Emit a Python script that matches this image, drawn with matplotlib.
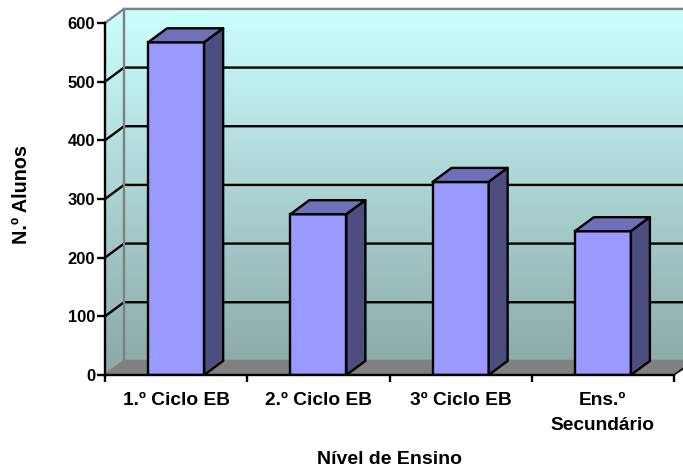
import matplotlib
matplotlib.use('Agg')
import matplotlib.pyplot as plt
from matplotlib.colors import LinearSegmentedColormap
from matplotlib.patches import Polygon
import numpy as np

niveis = ['1.º Ciclo EB', '2.º Ciclo EB', '3º Ciclo EB', 'Ens.º\nSecundário']
alunos = [567, 274, 329, 245]
y_ticks = [0, 100, 200, 300, 400, 500, 600]

plt.rcParams['font.family'] = ['Liberation Sans', 'DejaVu Sans']
plt.rcParams['font.weight'] = 'bold'

fig = plt.figure(figsize=(6.83, 4.68), dpi=100)
ax = fig.add_axes([105 / 683, (468 - 375) / 468, 569 / 683, 352 / 468])
ax.set_xlim(0, 4)
ax.set_ylim(0, 600)

# depth of the fake 3D box, in data units
dx = 19 / 142.25
dy = 24
largura = 0.394
lw = 1.7
x_max = 4.2

# back and side walls share one vertical gradient
cmap = LinearSegmentedColormap.from_list('parede', ['#8aa8a6', '#ccffff'])
grad = np.linspace(0, 1, 256).reshape(-1, 1)
parede = Polygon([(0, 0), (dx, dy), (x_max, dy), (x_max, 600 + dy), (dx, 600 + dy), (0, 600)],
                 transform=ax.transData)
im = ax.imshow(grad, origin='lower', extent=[0, x_max, 0, 600 + dy], aspect='auto',
               cmap=cmap, zorder=0)
im.set_clip_path(parede)
im.set_clip_box(fig.bbox)
ax.set_xlim(0, 4)
ax.set_ylim(0, 600)

# floor
ax.add_patch(Polygon([(0, 0), (dx, dy), (x_max, dy), (4, 0)], facecolor='#808080',
                     edgecolor='none', clip_on=False, zorder=1))

# gridlines run along the side wall and then the back wall
for v in y_ticks[1:-1]:
    ax.plot([0, dx, x_max], [v, v + dy, v + dy], color='black', lw=lw, clip_on=False, zorder=1.5)
ax.plot([0, dx, x_max], [600, 600 + dy, 600 + dy], color='#808080', lw=lw, clip_on=False, zorder=1.5)
ax.plot([dx, dx], [dy, 600 + dy], color='#808080', lw=lw, clip_on=False, zorder=1.5)
ax.plot([0, dx, x_max], [0, dy, dy], color='#808080', lw=lw, clip_on=False, zorder=1.5)
ax.plot([4, 4 + dx], [0, dy], color='black', lw=1, clip_on=False, zorder=1.5)

# bars
pos = np.arange(len(alunos)) + 0.5
ax.bar(pos, alunos, width=largura, color='#9999ff', edgecolor='black', linewidth=lw, zorder=3)
for p, v in zip(pos, alunos):
    x0 = p - largura / 2
    x1 = p + largura / 2
    ax.add_patch(Polygon([(x0, v), (x0 + dx, v + dy), (x1 + dx, v + dy), (x1, v)],
                         facecolor='#7070b8', edgecolor='black', linewidth=lw,
                         joinstyle='round', clip_on=False, zorder=3))
    ax.add_patch(Polygon([(x1, 0), (x1 + dx, dy), (x1 + dx, v + dy), (x1, v)],
                         facecolor='#4d4d80', edgecolor='black', linewidth=lw,
                         joinstyle='round', clip_on=False, zorder=3))

for s in ['top', 'right']:
    ax.spines[s].set_visible(False)
for s in ['left', 'bottom']:
    ax.spines[s].set_linewidth(lw)
    ax.spines[s].set_zorder(4)

ax.set_yticks(y_ticks)
ax.set_xticks([0, 1, 2, 3, 4])
ax.set_xticklabels([])
ax.set_xticks(pos, labels=niveis, minor=True, linespacing=1.6)
ax.tick_params(axis='x', which='major', length=5, width=lw, direction='out')
ax.tick_params(axis='x', which='minor', length=0, pad=12.5, labelsize=13.8)
ax.tick_params(axis='y', length=6, width=lw, pad=1, labelsize=11.9)

fig.text(22 / 683, 1 - 195 / 468, 'N.º Alunos', rotation=90, ha='center', va='center', fontsize=14.2)
fig.text(389 / 683, 1 - 460 / 468, 'Nível de Ensino', ha='center', va='center', fontsize=14)

plt.savefig('out.png', dpi=100)
